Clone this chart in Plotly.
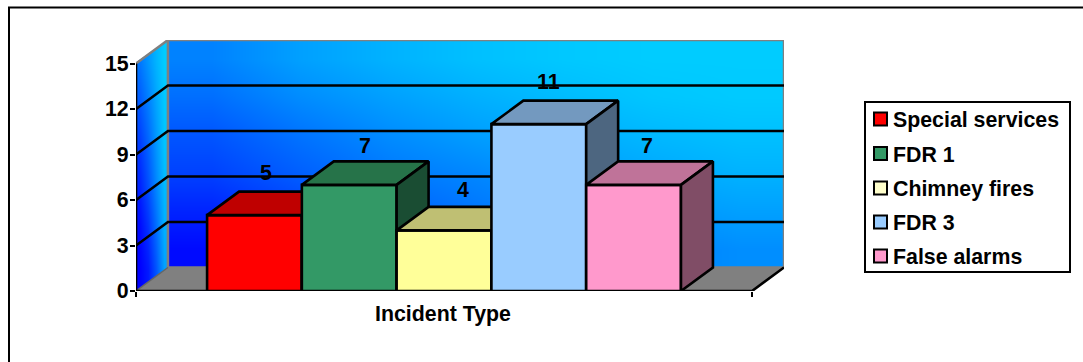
import plotly.graph_objects as go

# Incident counts by type
incident_types = ["Special services", "FDR 1", "Chimney fires", "FDR 3", "False alarms"]
incident_counts = [5, 7, 4, 11, 7]
y_ticks = [0, 3, 6, 9, 12, 15]

# Face colours: front, top (lit), side (shaded)
front_colours = ["#FF0000", "#339966", "#FFFF99", "#99CCFF", "#FF99CC"]
top_colours = ["#BF0000", "#267349", "#BFBF73", "#7399BF", "#BF7399"]
side_colours = ["#800000", "#1A4D33", "#80804D", "#4D6680", "#804D66"]
legend_colours = ["#FF0000", "#339966", "#FFFFCC", "#99CCFF", "#FF99CC"]

# Green-channel shades of the blue walls, bottom row first
back_wall_shade = [
    [10, 40, 70, 95, 115, 130, 142],
    [35, 65, 95, 118, 135, 150, 160],
    [65, 95, 120, 135, 155, 168, 178],
    [85, 115, 140, 158, 172, 184, 192],
    [110, 140, 160, 176, 188, 198, 202],
    [130, 160, 178, 192, 200, 204, 204],
]
side_wall_shade = [
    [0, 25, 85, 160],
    [10, 50, 110, 175],
    [35, 80, 135, 185],
    [60, 100, 150, 195],
    [90, 125, 165, 200],
    [120, 150, 180, 204],
]

# Oblique projection in axis units
AXIS_LEFT, AXIS_RIGHT = -1.25, 5.25
DEPTH_X, DEPTH_Y = 0.337, 1.55
TOP = y_ticks[-1]
FONT = "Liberation Sans"
BOLD_21 = dict(family=FONT, size=21.33, color="black")
BLACK = dict(color="black", width=2.6)
THIN_BLACK = dict(color="black", width=2)
GREY = dict(color="#808080", width=2.5)

PLOT_L, PLOT_B, PLOT_W, PLOT_H = 136, 291, 648, 251
X_RANGE = [AXIS_LEFT, AXIS_RIGHT + DEPTH_X]
Y_RANGE = [0, TOP + DEPTH_Y]


def px_x(px):
    return (px - PLOT_L) / PLOT_W


def px_y(py):
    return (PLOT_B - py) / PLOT_H


def poly(xs, ys, fill, line, xaxis="x", yaxis="y"):
    return go.Scatter(
        x=xs, y=ys, mode="lines", fill="toself", fillcolor=fill, line=line,
        xaxis=xaxis, yaxis=yaxis, hoverinfo="skip", showlegend=False, cliponaxis=False,
    )


def segment(xs, ys, line):
    return go.Scatter(
        x=xs, y=ys, mode="lines", line=line, hoverinfo="skip", showlegend=False, cliponaxis=False,
    )


def cell_edges(start, stop, cells):
    return [start + (stop - start) * i / cells for i in range(cells + 1)]


BLUE_RAMP = [[0, "rgb(0,0,255)"], [1, "rgb(0,204,255)"]]
fig = go.Figure()

# Back wall and left wall gradients
fig.add_trace(go.Heatmap(
    x=cell_edges(AXIS_LEFT + DEPTH_X, AXIS_RIGHT + DEPTH_X, 7),
    y=cell_edges(DEPTH_Y, TOP + DEPTH_Y, 6),
    z=back_wall_shade, zmin=0, zmax=204, colorscale=BLUE_RAMP,
    zsmooth="best", showscale=False, hoverinfo="skip",
))
fig.add_trace(go.Heatmap(
    x=cell_edges(AXIS_LEFT, AXIS_LEFT + DEPTH_X, 4),
    y=cell_edges(0, TOP + DEPTH_Y, 6),
    z=side_wall_shade, zmin=0, zmax=204, colorscale=BLUE_RAMP,
    zsmooth="best", showscale=False, hoverinfo="skip",
))

# Trim the left wall gradient to its parallelogram
fig.add_trace(poly(
    [AXIS_LEFT - 0.02, AXIS_LEFT + DEPTH_X, AXIS_LEFT - 0.02],
    [TOP, TOP + DEPTH_Y, TOP + DEPTH_Y],
    "white", dict(width=0),
))

# Floor
fig.add_trace(poly(
    [AXIS_LEFT, AXIS_LEFT + DEPTH_X, AXIS_RIGHT + DEPTH_X, AXIS_RIGHT, AXIS_LEFT],
    [0, DEPTH_Y, DEPTH_Y, 0, 0],
    "#808080", dict(width=0),
))

# Wall borders
fig.add_trace(segment(
    [AXIS_LEFT, AXIS_LEFT + DEPTH_X, AXIS_RIGHT + DEPTH_X, AXIS_RIGHT + DEPTH_X],
    [TOP, TOP + DEPTH_Y, TOP + DEPTH_Y, DEPTH_Y], GREY,
))
fig.add_trace(segment(
    [AXIS_LEFT + DEPTH_X, AXIS_LEFT + DEPTH_X, AXIS_RIGHT + DEPTH_X],
    [TOP + DEPTH_Y, DEPTH_Y, DEPTH_Y], GREY,
))
fig.add_trace(segment(
    [AXIS_LEFT, AXIS_LEFT + DEPTH_X], [0, DEPTH_Y], dict(color="#666666", width=1.5),
))

# Gridlines run across the left wall then along the back wall
for tick in y_ticks[1:-1]:
    fig.add_trace(segment(
        [AXIS_LEFT, AXIS_LEFT + DEPTH_X, AXIS_RIGHT + DEPTH_X],
        [tick, tick + DEPTH_Y, tick + DEPTH_Y], BLACK,
    ))

# Front axis lines and the floor's right edge
fig.add_trace(segment(
    [AXIS_LEFT, AXIS_LEFT, AXIS_RIGHT, AXIS_RIGHT + DEPTH_X],
    [TOP, 0, 0, DEPTH_Y], BLACK,
))

# Each box sits on its own overlay so later boxes paint over earlier ones
layout_axes = {}
for i, (name, value) in enumerate(zip(incident_types, incident_counts)):
    n = i + 2
    xa, ya = f"x{n}", f"y{n}"
    left, right = i - 0.5, i + 0.5
    fig.add_trace(go.Bar(
        x=[i], y=[value], width=1, name=name, xaxis=xa, yaxis=ya,
        marker=dict(color=front_colours[i], line=BLACK),
        showlegend=False, cliponaxis=False,
        hovertemplate=f"{name}: %{{y}}<extra></extra>",
    ))
    fig.add_trace(poly(
        [left, left + DEPTH_X, right + DEPTH_X, right, left],
        [value, value + DEPTH_Y, value + DEPTH_Y, value, value],
        top_colours[i], BLACK, xa, ya,
    ))
    fig.add_trace(poly(
        [right, right + DEPTH_X, right + DEPTH_X, right, right],
        [value, value + DEPTH_Y, DEPTH_Y, 0, value],
        side_colours[i], BLACK, xa, ya,
    ))
    layout_axes[f"xaxis{n}"] = dict(overlaying="x", range=X_RANGE, visible=False, fixedrange=True)
    layout_axes[f"yaxis{n}"] = dict(overlaying="y", range=Y_RANGE, visible=False, fixedrange=True)

# Value labels float above the back edge of each box
label_nudges = [(12, 42), (16, 39), (19, 40), (10, 42), (13, 39)]
annotations = [
    dict(
        x=i, y=value, xref="x", yref="y", text=f"<b>{value}</b>", showarrow=False,
        xshift=dx, yshift=dy, font=BOLD_21,
    )
    for i, (value, (dx, dy)) in enumerate(zip(incident_counts, label_nudges))
]

# Category caption centred under the front axis
annotations.append(dict(
    x=(AXIS_LEFT + AXIS_RIGHT) / 2, y=0, xref="x", yref="y", text="<b>Incident Type</b>",
    showarrow=False, xshift=-1, yshift=-23, font=BOLD_21,
))

# Legend box on the right
shapes = [
    dict(type="rect", xref="paper", yref="paper", x0=px_x(865), x1=px_x(1070),
         y0=px_y(272), y1=px_y(102), line=THIN_BLACK, fillcolor="white"),
    # Outer frame open at the right and bottom
    dict(type="path", xref="paper", yref="paper", line=THIN_BLACK,
         path=f"M {px_x(9)} {px_y(364)} L {px_x(9)} {px_y(7.5)} L {px_x(1085)} {px_y(7.5)}"),
]
legend_rows = [119, 153.5, 188, 222, 256]
for name, colour, row in zip(incident_types, legend_colours, legend_rows):
    shapes.append(dict(
        type="rect", xref="paper", yref="paper", x0=px_x(874), x1=px_x(887),
        y0=px_y(row + 6.5), y1=px_y(row - 6.5), line=THIN_BLACK, fillcolor=colour,
    ))
    annotations.append(dict(
        x=px_x(891), y=px_y(row + 1), xref="paper", yref="paper", text=f"<b>{name}</b>",
        xanchor="left", yanchor="middle", showarrow=False, font=BOLD_21,
    ))

fig.update_layout(
    width=1083, height=362,
    margin=dict(l=PLOT_L, r=1083 - PLOT_L - PLOT_W, t=PLOT_B - PLOT_H, b=362 - PLOT_B, pad=0),
    paper_bgcolor="white", plot_bgcolor="white",
    barmode="overlay", showlegend=False,
    xaxis=dict(
        range=X_RANGE, tickmode="array", tickvals=[AXIS_LEFT, AXIS_RIGHT], showticklabels=False,
        ticks="outside", ticklen=5, tickwidth=2, tickcolor="black",
        showgrid=False, zeroline=False, showline=False, fixedrange=True,
    ),
    yaxis=dict(
        range=Y_RANGE, tickmode="array", tickvals=y_ticks, ticktext=[str(t) for t in y_ticks],
        ticks="outside", ticklen=5, tickwidth=2, tickcolor="black", ticklabelstandoff=-3,
        tickfont=dict(family=FONT, size=21.33, color="black", weight="bold"),
        showgrid=False, zeroline=False, showline=False, fixedrange=True,
    ),
    annotations=annotations, shapes=shapes,
    **layout_axes,
)

fig.write_html("out.html")
